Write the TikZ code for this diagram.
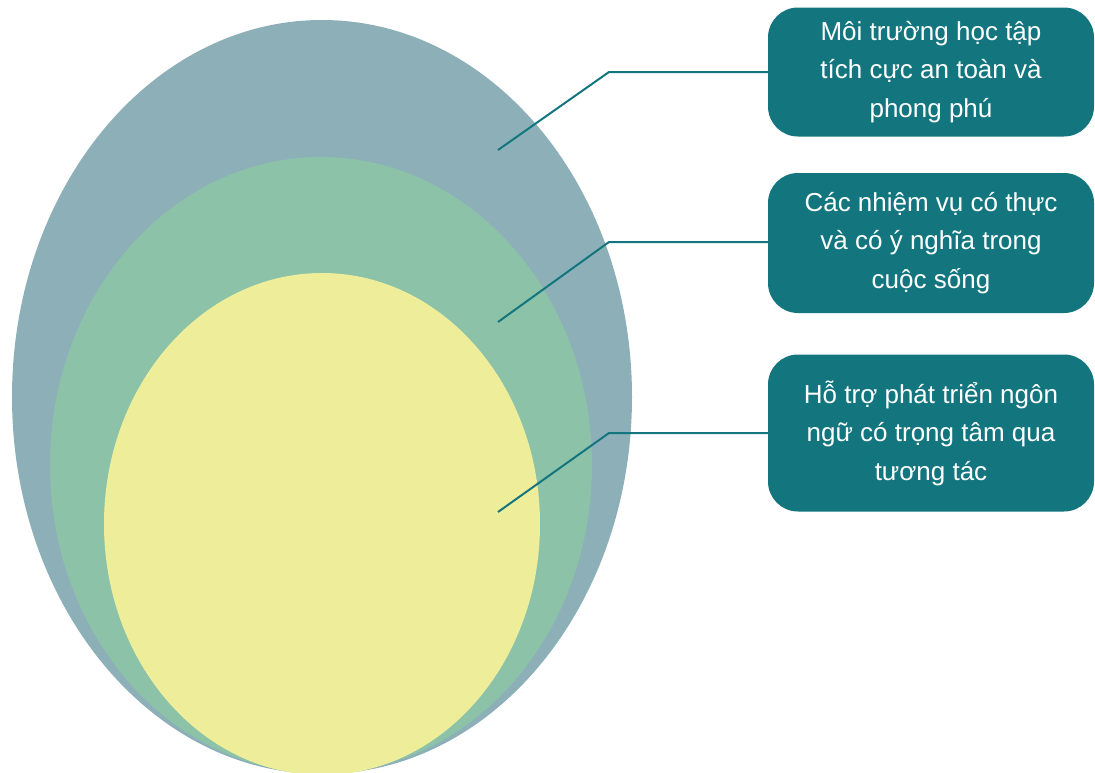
\documentclass[tikz,border=0pt]{standalone}
\usepackage{fontspec}
\setmainfont{Liberation Sans}
\definecolor{outerc}{HTML}{8DB0B8}
\definecolor{midc}{HTML}{8CC2A8}
\definecolor{innerc}{HTML}{EEEE9A}
\definecolor{tealc}{HTML}{13767F}
\tikzset{
  infobox/.style={fill=tealc, rounded corners=30pt, minimum width=326pt,
    text=white, align=center, inner sep=0pt,
    font=\fontsize{26}{38.5}\selectfont},
  link/.style={draw=tealc, line width=2pt}
}
\begin{document}
\begin{tikzpicture}[x=1pt,y=-1pt]
\useasboundingbox (0,0) rectangle (1095,772);
% nested ellipses
\fill[outerc] (322,397) ellipse [x radius=310, y radius=377];
\fill[midc] (321,465) ellipse [x radius=271, y radius=308];
\fill[innerc] (322,524) ellipse [x radius=218, y radius=251];
% label boxes
\node[infobox, minimum height=129pt] (b1) at (931,72) {Môi trường học tập\\tích cực an toàn và\\phong phú};
\node[infobox, minimum height=140pt] (b2) at (931,243) {Các nhiệm vụ có thực\\và có ý nghĩa trong\\cuộc sống};
\node[infobox, minimum height=157pt] (b3) at (931,433) {Hỗ trợ phát triển ngôn\\ngữ có trọng tâm qua\\tương tác};
% anchor points inside the ellipses
\coordinate (p1) at (498,150);
\coordinate (p2) at (498,322);
\coordinate (p3) at (498,512);
\coordinate (k1) at (609,72);
\coordinate (k2) at (609,242);
\coordinate (k3) at (609,433);
\draw[link] (p1) -- (k1) -- (b1.west);
\draw[link] (p2) -- (k2) -- (k2 -| b2.west);
\draw[link] (p3) -- (k3) -- (b3.west);
\end{tikzpicture}
\end{document}
